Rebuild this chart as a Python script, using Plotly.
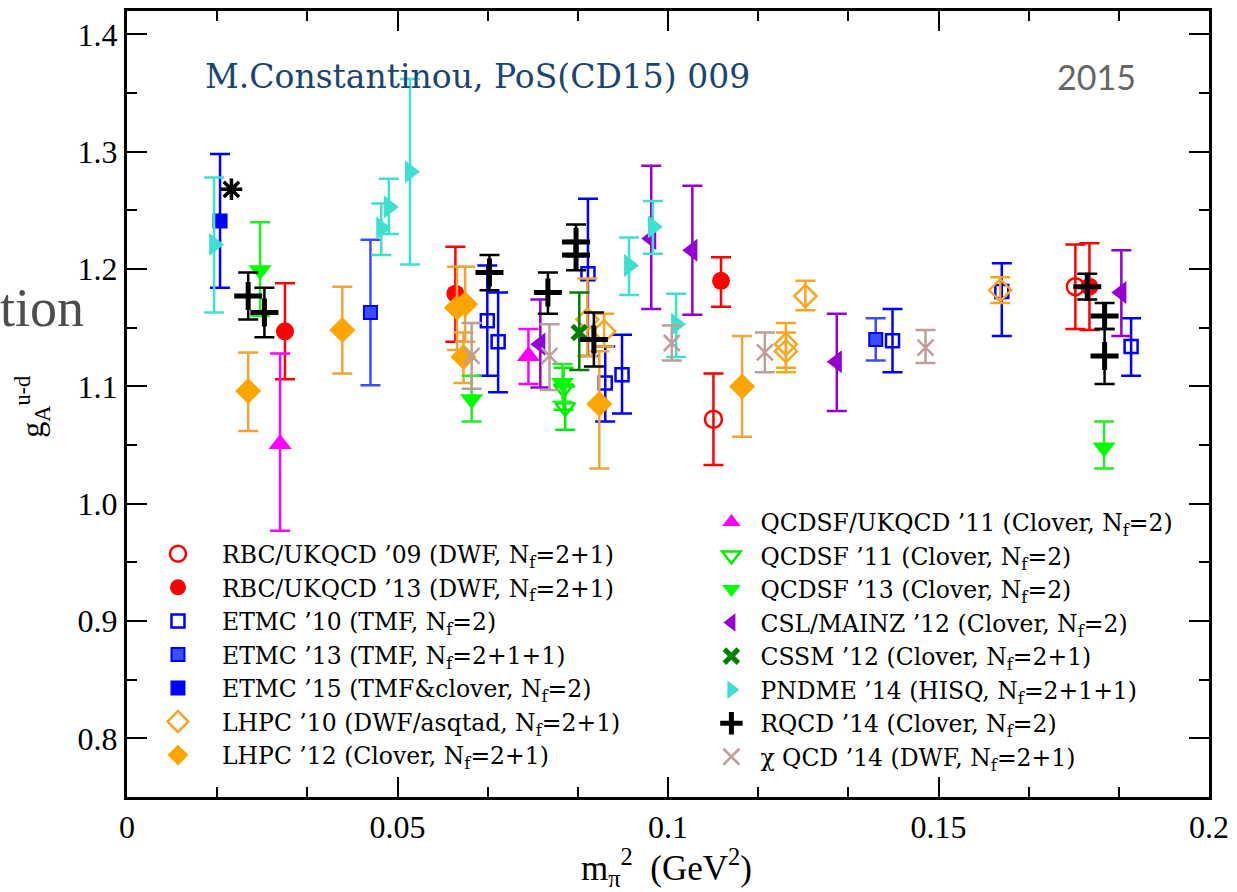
import plotly.graph_objects as go

# ---------------- data (x = m_pi^2 [GeV^2], y = g_A^{u-d}, up/down errors) -------------
RBC09_x = [0.1084, 0.1753]
RBC09_y = [1.072, 1.185]
RBC09_up = [0.039, 0.036]
RBC09_dn = [0.039, 0.036]

RBC13_x = [0.0292, 0.0607, 0.1098, 0.1779]
RBC13_y = [1.147, 1.179, 1.190, 1.185]
RBC13_up = [0.041, 0.040, 0.020, 0.037]
RBC13_dn = [0.041, 0.041, 0.022, 0.037]

ETMC10_x = [0.0666, 0.0686, 0.0852, 0.0884, 0.0915, 0.1415, 0.1617, 0.1856]
ETMC10_y = [1.156, 1.138, 1.196, 1.103, 1.110, 1.139, 1.181, 1.134]
ETMC10_up = [0.047, 0.042, 0.064, 0.031, 0.034, 0.027, 0.024, 0.024]
ETMC10_dn = [0.047, 0.043, 0.070, 0.033, 0.033, 0.027, 0.038, 0.025]

ETMC13_x = [0.0450, 0.1384]
ETMC13_y = [1.163, 1.140]
ETMC13_up = [0.062, 0.018]
ETMC13_dn = [0.062, 0.018]

ETMC15_x = [0.0172]
ETMC15_y = [1.241]
ETMC15_up = [0.057]
ETMC15_dn = [0.057]

LHPC10_x = [0.0851, 0.0882, 0.1218, 0.1218, 0.1254, 0.1614]
LHPC10_y = [1.157, 1.147, 1.136, 1.130, 1.177, 1.182]
LHPC10_up = [0.035, 0.015, 0.018, 0.016, 0.013, 0.011]
LHPC10_dn = [0.031, 0.013, 0.020, 0.018, 0.012, 0.011]

LHPC12_x = [0.0224, 0.0398, 0.0610, 0.0625, 0.0622, 0.0873, 0.1137]
LHPC12_y = [1.096, 1.148, 1.167, 1.170, 1.125, 1.085, 1.100]
LHPC12_up = [0.033, 0.037, 0.035, 0.032, 0.021, 0.045, 0.043]
LHPC12_dn = [0.034, 0.037, 0.036, 0.032, 0.022, 0.055, 0.043]

QUK11_x = [0.0283, 0.0742]
QUK11_y = [1.051, 1.126]
QUK11_up = [0.077, 0.023]
QUK11_dn = [0.074, 0.024]

QSF11_x = [0.0807, 0.0810]
QSF11_y = [1.098, 1.082]
QSF11_up = [0.018, 0.018]
QSF11_dn = [0.018, 0.019]

QSF13_x = [0.0246, 0.0637, 0.0805, 0.1806]
QSF13_y = [1.199, 1.089, 1.103, 1.048]
QSF13_up = [0.041, 0.020, 0.016, 0.022]
QSF13_dn = [0.039, 0.019, 0.016, 0.018]

CSL12_x = [0.0764, 0.0969, 0.1045, 0.1312, 0.1838]
CSL12_y = [1.136, 1.226, 1.216, 1.121, 1.180]
CSL12_up = [0.038, 0.062, 0.055, 0.041, 0.036]
CSL12_dn = [0.037, 0.060, 0.055, 0.042, 0.037]

CSSM12_x = [0.0836]
CSSM12_y = [1.146]
CSSM12_up = [0.034]
CSSM12_dn = [0.032]

PNDME14_x = [0.0161, 0.0470, 0.0484, 0.0523, 0.0928, 0.0972, 0.1015]
PNDME14_y = [1.221, 1.235, 1.253, 1.283, 1.203, 1.236, 1.153]
PNDME14_up = [0.057, 0.021, 0.024, 0.079, 0.024, 0.022, 0.026]
PNDME14_dn = [0.058, 0.023, 0.023, 0.079, 0.025, 0.023, 0.028]

RQCD14_x = [0.0224, 0.0254, 0.0670, 0.0778, 0.0830, 0.0830, 0.0863, 0.1775, 0.1807, 0.1807]
RQCD14_y = [1.177, 1.163, 1.197, 1.180, 1.223, 1.212, 1.140, 1.185, 1.160, 1.126]
RQCD14_up = [0.020, 0.021, 0.015, 0.017, 0.015, 0.012, 0.023, 0.011, 0.011, 0.023]
RQCD14_dn = [0.020, 0.021, 0.015, 0.018, 0.012, 0.013, 0.023, 0.011, 0.011, 0.024]

CHIQCD14_x = [0.0637, 0.0781, 0.1007, 0.1179, 0.1476]
CHIQCD14_y = [1.126, 1.126, 1.137, 1.129, 1.133]
CHIQCD14_up = [0.028, 0.027, 0.015, 0.017, 0.015]
CHIQCD14_dn = [0.028, 0.029, 0.015, 0.017, 0.013]

PHYS_x = [0.0193]
PHYS_y = [1.268]

X_TICKS = [0, 0.05, 0.1, 0.15, 0.2]
X_TICKTEXT = ["0", "0.05", "0.1", "0.15", "0.2"]
Y_TICKS = [0.8, 0.9, 1.0, 1.1, 1.2, 1.3, 1.4]
Y_TICKTEXT = ["0.8", "0.9", "1.0", "1.1", "1.2", "1.3", "1.4"]

# ---------------- styling ----------------
SERIF = "Liberation Serif"
LEGSERIF = "DejaVu Serif"
W, H = 1237, 892
ML, MR, MT, MB = 127, 25, 8, 95
PW, PH = W - ML - MR, H - MT - MB


def px2paper_x(px):
    return (px - ML) / PW


def px2paper_y(py):
    return (H - MB - py) / PH


fig = go.Figure()


def add(name, xs, ys, up, dn, symbol, color, size, legend, ecolor=None, lw=0, lcolor=None):
    fig.add_trace(go.Scatter(
        x=xs, y=ys, mode="markers", name=name, legend=legend,
        marker=dict(symbol=symbol, color=color, size=size,
                    line=dict(width=lw, color=lcolor or color)),
        error_y=dict(type="data", array=up, arrayminus=dn, symmetric=False,
                     color=ecolor or color, thickness=2.5, width=10),
        cliponaxis=False,
    ))


NF = "N<sub>f</sub>"
add(f"RBC/UKQCD ’09 (DWF, {NF}=2+1)", RBC09_x, RBC09_y, RBC09_up, RBC09_dn,
    "circle-open", "#ff0000", 17, "legend", lw=2.5)
add(f"RBC/UKQCD ’13 (DWF, {NF}=2+1)", RBC13_x, RBC13_y, RBC13_up, RBC13_dn,
    "circle", "#ff0000", 18, "legend")
add(f"ETMC ’10 (TMF, {NF}=2)", ETMC10_x, ETMC10_y, ETMC10_up, ETMC10_dn,
    "square-open", "#0000ff", 13, "legend", lw=2.5)
add(f"ETMC ’13 (TMF, {NF}=2+1+1)", ETMC13_x, ETMC13_y, ETMC13_up, ETMC13_dn,
    "square", "#3d4cff", 13, "legend", lw=2, lcolor="#0000ff")
add(f"ETMC ’15 (TMF&clover, {NF}=2)", ETMC15_x, ETMC15_y, ETMC15_up, ETMC15_dn,
    "square", "#0000ff", 15, "legend")
add(f"LHPC ’10 (DWF/asqtad, {NF}=2+1)", LHPC10_x, LHPC10_y, LHPC10_up, LHPC10_dn,
    "diamond-open", "#f5a623", 17, "legend", lw=2.5)
add(f"LHPC ’12 (Clover, {NF}=2+1)", LHPC12_x, LHPC12_y, LHPC12_up, LHPC12_dn,
    "diamond", "#ffa500", 20, "legend", ecolor="#f0a436")

add(f"QCDSF/UKQCD ’11 (Clover, {NF}=2)", QUK11_x, QUK11_y, QUK11_up, QUK11_dn,
    "triangle-up", "#ff00ff", 20, "legend2")
add(f"QCDSF ’11 (Clover, {NF}=2)", QSF11_x, QSF11_y, QSF11_up, QSF11_dn,
    "triangle-down-open", "#00ee00", 17, "legend2", lw=2.5)
add(f"QCDSF ’13 (Clover, {NF}=2)", QSF13_x, QSF13_y, QSF13_up, QSF13_dn,
    "triangle-down", "#00ff00", 20, "legend2", ecolor="#22ee22")
add(f"CSL/MAINZ ’12 (Clover, {NF}=2)", CSL12_x, CSL12_y, CSL12_up, CSL12_dn,
    "triangle-left", "#9400d3", 20, "legend2")
add(f"CSSM ’12 (Clover, {NF}=2+1)", CSSM12_x, CSSM12_y, CSSM12_up, CSSM12_dn,
    "x-thin-open", "#007f00", 14, "legend2", lw=5)
add(f"PNDME ’14 (HISQ, {NF}=2+1+1)", PNDME14_x, PNDME14_y, PNDME14_up, PNDME14_dn,
    "triangle-right", "#40e0d0", 20, "legend2")
add(f"RQCD ’14 (Clover, {NF}=2)", RQCD14_x, RQCD14_y, RQCD14_up, RQCD14_dn,
    "cross-thin-open", "#000000", 20, "legend2", lw=5)
add(f"χ QCD ’14 (DWF, {NF}=2+1)", CHIQCD14_x, CHIQCD14_y, CHIQCD14_up, CHIQCD14_dn,
    "x-thin-open", "#bc9f9a", 16, "legend2", lw=2.5)

fig.add_trace(go.Scatter(
    x=PHYS_x, y=PHYS_y, mode="markers", showlegend=False,
    marker=dict(symbol="asterisk-open", size=18, color="#000000",
                line=dict(width=3.5, color="#000000")),
))

axis_common = dict(
    showgrid=False, zeroline=False, showline=True, linecolor="#000000",
    linewidth=3, mirror="allticks", ticks="inside", ticklen=20,
    tickwidth=2, tickcolor="#000000",
    tickfont=dict(family=SERIF, size=32, color="#000000"),
)

fig.update_layout(
    width=W, height=H,
    margin=dict(l=ML, r=MR, t=MT, b=MB),
    paper_bgcolor="#ffffff", plot_bgcolor="#ffffff",
    xaxis=dict(range=[0, 0.2], tickvals=X_TICKS, ticktext=X_TICKTEXT,
               minor=dict(dtick=0.05 / 3, tick0=0, ticks="inside", ticklen=10,
                          tickwidth=2, tickcolor="#000000"),
               **axis_common),
    yaxis=dict(range=[0.75, 1.42], tickvals=Y_TICKS, ticktext=Y_TICKTEXT,
               minor=dict(dtick=0.05, tick0=0, ticks="inside", ticklen=10,
                          tickwidth=2, tickcolor="#000000"),
               **axis_common),
    legend=dict(x=px2paper_x(134), y=px2paper_y(531), xanchor="left", yanchor="top",
                bgcolor="rgba(0,0,0,0)", borderwidth=0, tracegroupgap=0,
                font=dict(family=LEGSERIF, size=23.5, color="#000000"),
                itemsizing="trace", itemwidth=78),
    legend2=dict(x=px2paper_x(704), y=px2paper_y(499), xanchor="left", yanchor="top",
                 bgcolor="rgba(0,0,0,0)", borderwidth=0, tracegroupgap=0,
                 font=dict(family=LEGSERIF, size=23.5, color="#000000"),
                 itemsizing="trace", itemwidth=48),
    showlegend=True,
)

annotations = [
    dict(text="M.Constantinou, PoS(CD15) 009", x=px2paper_x(203), y=px2paper_y(74),
         xanchor="left", yanchor="middle",
         font=dict(family=LEGSERIF, size=33, color="#1b4470")),
    dict(text="2015", x=px2paper_x(1058), y=px2paper_y(74),
         xanchor="left", yanchor="middle",
         font=dict(family="Lato", size=34, color="#666666")),
    dict(text="tion", x=px2paper_x(-2), y=px2paper_y(306),
         xanchor="left", yanchor="middle",
         font=dict(family=SERIF, size=54, color="#4d4d4d")),
    dict(text="g<sub>A</sub><sup>u-d</sup>", x=px2paper_x(32), y=px2paper_y(405),
         xanchor="center", yanchor="middle", textangle=-90,
         font=dict(family=SERIF, size=32, color="#000000")),
    dict(text="m<sub>π</sub><sup>2</sup>  (GeV<sup>2</sup>)", x=px2paper_x(668),
         y=px2paper_y(868), xanchor="center", yanchor="middle",
         font=dict(family=SERIF, size=35, color="#000000")),
]
for a in annotations:
    a.update(xref="paper", yref="paper", showarrow=False)
fig.update_layout(annotations=annotations)

fig.write_html("out.html")
